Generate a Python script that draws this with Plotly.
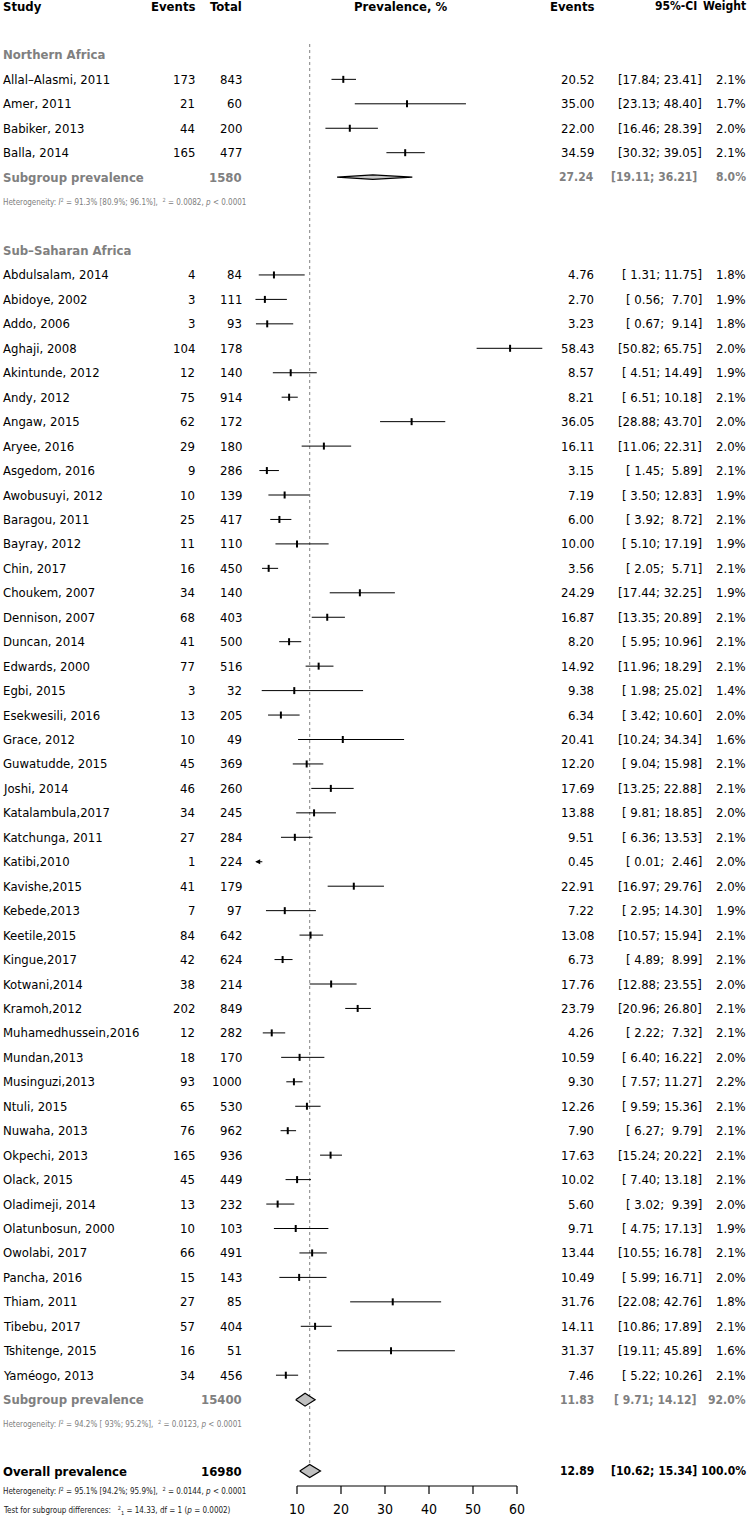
import plotly.graph_objects as go

# ── Data ─────────────────────────────────────────────────────────────────────
north_study = ["Allal\u2013Alasmi, 2011", "Amer, 2011", "Babiker, 2013", "Balla, 2014"]
north_events = [173, 21, 44, 165]
north_total = [843, 60, 200, 477]
north_est = [20.52, 35.00, 22.00, 34.59]
north_lo = [17.84, 23.13, 16.46, 30.32]
north_hi = [23.41, 48.40, 28.39, 39.05]
north_w = [2.1, 1.7, 2.0, 2.1]
north_pooled = dict(total=1580, est=27.24, lo=19.11, hi=36.21, w=8.0)
north_het = "Heterogeneity: <i>I</i><sup>2</sup> = 91.3% [80.9%; 96.1%],  <sup>2</sup> = 0.0082, <i>p</i> < 0.0001"

ssa_study = [
    "Abdulsalam, 2014", "Abidoye, 2002", "Addo, 2006", "Aghaji, 2008", "Akintunde, 2012",
    "Andy, 2012", "Angaw, 2015", "Aryee, 2016", "Asgedom, 2016", "Awobusuyi, 2012",
    "Baragou, 2011", "Bayray, 2012", "Chin, 2017", "Choukem, 2007", "Dennison, 2007",
    "Duncan, 2014", "Edwards, 2000", "Egbi, 2015", "Esekwesili, 2016", "Grace, 2012",
    "Guwatudde, 2015", "Joshi, 2014", "Katalambula,2017", "Katchunga, 2011", "Katibi,2010",
    "Kavishe,2015", "Kebede,2013", "Keetile,2015", "Kingue,2017", "Kotwani,2014",
    "Kramoh,2012", "Muhamedhussein,2016", "Mundan,2013", "Musinguzi,2013", "Ntuli, 2015",
    "Nuwaha, 2013", "Okpechi, 2013", "Olack, 2015", "Oladimeji, 2014", "Olatunbosun, 2000",
    "Owolabi, 2017", "Pancha, 2016", "Thiam, 2011", "Tibebu, 2017", "Tshitenge, 2015",
    "Yam\u00e9ogo, 2013",
]
ssa_events = [4, 3, 3, 104, 12, 75, 62, 29, 9, 10, 25, 11, 16, 34, 68, 41, 77, 3, 13, 10,
              45, 46, 34, 27, 1, 41, 7, 84, 42, 38, 202, 12, 18, 93, 65, 76, 165, 45, 13, 10,
              66, 15, 27, 57, 16, 34]
ssa_total = [84, 111, 93, 178, 140, 914, 172, 180, 286, 139, 417, 110, 450, 140, 403, 500,
             516, 32, 205, 49, 369, 260, 245, 284, 224, 179, 97, 642, 624, 214, 849, 282,
             170, 1000, 530, 962, 936, 449, 232, 103, 491, 143, 85, 404, 51, 456]
ssa_est = [4.76, 2.70, 3.23, 58.43, 8.57, 8.21, 36.05, 16.11, 3.15, 7.19, 6.00, 10.00, 3.56,
           24.29, 16.87, 8.20, 14.92, 9.38, 6.34, 20.41, 12.20, 17.69, 13.88, 9.51, 0.45,
           22.91, 7.22, 13.08, 6.73, 17.76, 23.79, 4.26, 10.59, 9.30, 12.26, 7.90, 17.63,
           10.02, 5.60, 9.71, 13.44, 10.49, 31.76, 14.11, 31.37, 7.46]
ssa_lo = [1.31, 0.56, 0.67, 50.82, 4.51, 6.51, 28.88, 11.06, 1.45, 3.50, 3.92, 5.10, 2.05,
          17.44, 13.35, 5.95, 11.96, 1.98, 3.42, 10.24, 9.04, 13.25, 9.81, 6.36, 0.01,
          16.97, 2.95, 10.57, 4.89, 12.88, 20.96, 2.22, 6.40, 7.57, 9.59, 6.27, 15.24,
          7.40, 3.02, 4.75, 10.55, 5.99, 22.08, 10.86, 19.11, 5.22]
ssa_hi = [11.75, 7.70, 9.14, 65.75, 14.49, 10.18, 43.70, 22.31, 5.89, 12.83, 8.72, 17.19,
          5.71, 32.25, 20.89, 10.96, 18.29, 25.02, 10.60, 34.34, 15.98, 22.88, 18.85, 13.53,
          2.46, 29.76, 14.30, 15.94, 8.99, 23.55, 26.80, 7.32, 16.22, 11.27, 15.36, 9.79,
          20.22, 13.18, 9.39, 17.13, 16.78, 16.71, 42.76, 17.89, 45.89, 10.26]
ssa_w = [1.8, 1.9, 1.8, 2.0, 1.9, 2.1, 2.0, 2.0, 2.1, 1.9, 2.1, 1.9, 2.1, 1.9, 2.1, 2.1, 2.1,
         1.4, 2.0, 1.6, 2.1, 2.1, 2.0, 2.1, 2.0, 2.0, 1.9, 2.1, 2.1, 2.0, 2.1, 2.1, 2.0, 2.2,
         2.1, 2.1, 2.1, 2.1, 2.0, 1.9, 2.1, 2.0, 1.8, 2.1, 1.6, 2.1]
ssa_pooled = dict(total=15400, est=11.83, lo=9.71, hi=14.12, w=92.0)
ssa_het = "Heterogeneity: <i>I</i><sup>2</sup> = 94.2% [ 93%; 95.2%],  <sup>2</sup> = 0.0123, <i>p</i> < 0.0001"

overall = dict(total=16980, est=12.89, lo=10.62, hi=15.34, w=100.0)
overall_het = "Heterogeneity: <i>I</i><sup>2</sup> = 95.1% [94.2%; 95.9%],  <sup>2</sup> = 0.0144, <i>p</i> < 0.0001"
subgroup_test = "Test for subgroup differences:   <sup>2</sup><sub>1</sub> = 14.33, df = 1 (<i>p</i> = 0.0002)"

x_ticks = [10, 20, 30, 40, 50, 60]
XLIM_LO = 0.5

# ── Layout constants ─────────────────────────────────────────────────────────
W, H = 752, 1529
ROW0, ROW_H = 6, 24.45
FONT = "DejaVu Sans Condensed, DejaVu Sans, sans-serif"
GREY = "#808080"
COL = dict(study=1, events=197, total=244, prev=400, est=596, ci=704, weight=748,
           ci_head=699, ci_bold=699)
AXIS_Y, TICK_LEN, TICK_LAB_Y = 1486, 8, 1510


def row_y(k):
    return ROW0 + ROW_H * k


fig = go.Figure()
ann = []


def txt(col, y, s, anchor="right", size=13, bold=False, color="black"):
    if bold:
        s = f"<b>{s}</b>"
    ann.append(dict(x=COL[col] / W, y=y, xref="paper", yref="y",
                    text=s, showarrow=False, xanchor=anchor, yanchor="middle",
                    font=dict(size=size, color=color, family=FONT)))


def ci_text(lo, hi):
    return f"[{lo:5.2f}; {hi:5.2f}]".replace(" ", "\u00a0")


def study_rows(names, ev, tot, est, lo, hi, w, k0):
    for i, name in enumerate(names):
        y = row_y(k0 + i)
        txt("study", y, name, anchor="left")
        txt("events", y, str(ev[i]))
        txt("total", y, str(tot[i]))
        txt("est", y, f"{est[i]:.2f}")
        txt("ci", y, ci_text(lo[i], hi[i]))
        txt("weight", y, f"{w[i]:.1f}%")
        if lo[i] < XLIM_LO:
            # interval runs past the left plot limit: draw it as an arrow
            ann.append(dict(x=XLIM_LO, y=y, ax=hi[i], ay=y, xref="x", yref="y",
                            axref="x", ayref="y", showarrow=True, arrowhead=2,
                            arrowsize=1, arrowwidth=1, arrowcolor="black", text=""))
        else:
            fig.add_trace(go.Scatter(x=[lo[i], hi[i]], y=[y, y], mode="lines",
                                     line=dict(color="black", width=1), hoverinfo="skip"))
    ys = [row_y(k0 + i) for i in range(len(names))]
    fig.add_trace(go.Scatter(x=[e if e >= XLIM_LO else None for e in est], y=ys,
                             mode="markers",
                             marker=dict(symbol="line-ns", size=5,
                                         line=dict(color="black", width=2)),
                             hoverinfo="skip"))


def diamond(p, y, half_h, fill):
    fig.add_trace(go.Scatter(
        x=[p["lo"], p["est"], p["hi"], p["est"], p["lo"]],
        y=[y, y - half_h, y, y + half_h, y],
        mode="lines", fill="toself", fillcolor=fill,
        line=dict(color="black", width=1.2), hoverinfo="skip"))


def pooled_row(label, p, y, color, half_h, fill):
    txt("study", y, label, anchor="left", bold=True, color=color)
    txt("total", y, str(p["total"]), bold=True, color=color)
    txt("est", y, f"{p['est']:.2f}", bold=True, color=color, size=12)
    txt("ci_bold", y, ci_text(p["lo"], p["hi"]), bold=True, color=color, size=12)
    txt("weight", y, f"{p['w']:.1f}%", bold=True, color=color, size=12)
    diamond(p, y, half_h, fill)


# header
y = row_y(0)
txt("study", y, "Study", anchor="left", bold=True)
txt("events", y, "Events", bold=True)
txt("total", y, "Total", bold=True)
txt("prev", y, "Prevalence, %", anchor="center", bold=True)
txt("est", y, "Events", bold=True)
txt("ci_head", y, "95%-CI", bold=True, size=12)
txt("weight", y, "Weight", bold=True, size=12)

# reference line at overall estimate
fig.add_trace(go.Scatter(x=[overall["est"], overall["est"]], y=[44, 1466], mode="lines",
                         line=dict(color=GREY, width=1, dash="dot"), hoverinfo="skip"))

# Northern Africa
txt("study", row_y(2), "Northern Africa", anchor="left", bold=True, color=GREY)
study_rows(north_study, north_events, north_total, north_est, north_lo, north_hi, north_w, 3)
pooled_row("Subgroup prevalence", north_pooled, row_y(7), GREY, 2.2, "#c8c8c8")
txt("study", row_y(8), north_het, anchor="left", size=8, color=GREY)

# Sub-Saharan Africa
txt("study", row_y(10), "Sub\u2013Saharan Africa", anchor="left", bold=True, color=GREY)
study_rows(ssa_study, ssa_events, ssa_total, ssa_est, ssa_lo, ssa_hi, ssa_w, 11)
pooled_row("Subgroup prevalence", ssa_pooled, row_y(57), GREY, 6.5, "#c0c0c0")
txt("study", row_y(58), ssa_het, anchor="left", size=8, color=GREY)

# Overall
pooled_row("Overall prevalence", overall, row_y(60) - 2, "black", 6.5, "#c0c0c0")
txt("study", 1491, overall_het, anchor="left", size=8, color="#222222")
txt("study", 1510, subgroup_test, anchor="left", size=8, color="#222222")

# x axis drawn as a line with downward ticks
fig.add_trace(go.Scatter(x=[x_ticks[0], x_ticks[-1]], y=[AXIS_Y, AXIS_Y], mode="lines",
                         line=dict(color="black", width=1.2), hoverinfo="skip"))
for t in x_ticks:
    fig.add_trace(go.Scatter(x=[t, t], y=[AXIS_Y, AXIS_Y + TICK_LEN], mode="lines",
                             line=dict(color="black", width=1.2), hoverinfo="skip"))
fig.add_trace(go.Scatter(x=x_ticks, y=[TICK_LAB_Y] * len(x_ticks), mode="text",
                         text=[str(t) for t in x_ticks], textposition="middle center",
                         textfont=dict(size=14, color="black", family=FONT),
                         hoverinfo="skip"))

fig.update_layout(
    width=W, height=H,
    margin=dict(l=0, r=0, t=0, b=0),
    paper_bgcolor="white", plot_bgcolor="white",
    showlegend=False,
    annotations=ann,
    xaxis=dict(range=[-57.5, 113.41], domain=[0, 1], visible=False, fixedrange=True),
    yaxis=dict(range=[H, 0], domain=[0, 1], visible=False, fixedrange=True),
)

fig.write_html("out.html", config={"displayModeBar": False},
               post_script="document.body.style.margin='0';")
